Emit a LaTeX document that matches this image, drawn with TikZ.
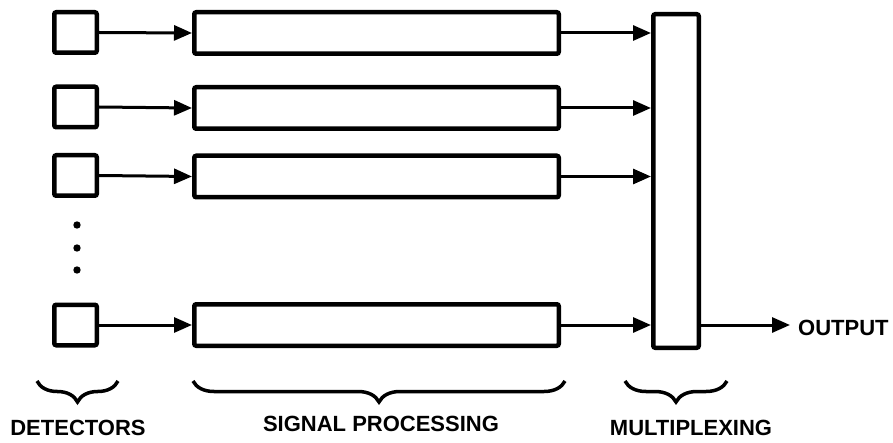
\documentclass[tikz,border=0pt]{standalone}
\usepackage{fontspec}
\setmainfont{Liberation Sans}
\usetikzlibrary{arrows.meta,decorations.pathreplacing}
\tikzset{
  detbox/.style={draw,line width=4.5pt,rounded corners=2pt,minimum width=42.5pt,minimum height=40.5pt},
  procbox/.style={draw,line width=4.5pt,rounded corners=2pt,minimum width=364.5pt,minimum height=41.5pt},
  muxbox/.style={draw,line width=4.5pt,rounded corners=2pt,minimum width=45.5pt,minimum height=333.5pt},
  sig/.style={->,line width=3pt},
  brc/.style={decorate,decoration={brace,mirror,amplitude=21pt},line width=3.5pt},
  lbl/.style={font=\fontsize{22}{26}\selectfont\bfseries}
}
\begin{document}
\begin{tikzpicture}[x=1pt,y=1pt,>={Triangle[length=18pt,width=15pt]}]
  \useasboundingbox (0,0) rectangle (893,442);

  % detectors and signal processing rows
  \node[detbox] (det1) at (75.5,409.5) {};
  \node[detbox] (det2) at (75.5,335) {};
  \node[detbox] (det3) at (75.5,266.5) {};
  \node[detbox] (det4) at (75.5,117) {};
  \node[procbox] (proc1) at (376.5,409) {};
  \node[procbox] (proc2) at (376.5,334) {};
  \node[procbox] (proc3) at (376.5,265.5) {};
  \node[procbox] (proc4) at (376.5,117) {};
  \node[muxbox] (mux) at (676,261) {};
  \node[lbl,anchor=west,inner sep=0pt] (out) at (798,114) {OUTPUT};

  % dots
  \foreach \y in {217,194,172}
    \fill (77,\y) circle (3.7pt);

  % arrows
  \foreach \i in {1,...,4} {
    \draw[sig] (det\i.east) -- (proc\i.west);
    \draw[sig] (proc\i.east) -- (proc\i.east -| mux.west);
  }
  \draw[sig] (mux.east |- proc4.east) -- ([xshift=-8pt]out.west |- proc4.east);

  % braces
  \draw[brc] (37,61) -- (118,61);
  \draw[brc] (193,61) -- (565,61);
  \draw[brc] (625,61) -- (727,61);
  \node[lbl] (ldet) at (78,14) {DETECTORS};
  \node[lbl] (lproc) at (381,18) {SIGNAL PROCESSING};
  \node[lbl] (lmux) at (691,14) {MULTIPLEXING};
\end{tikzpicture}
\end{document}
